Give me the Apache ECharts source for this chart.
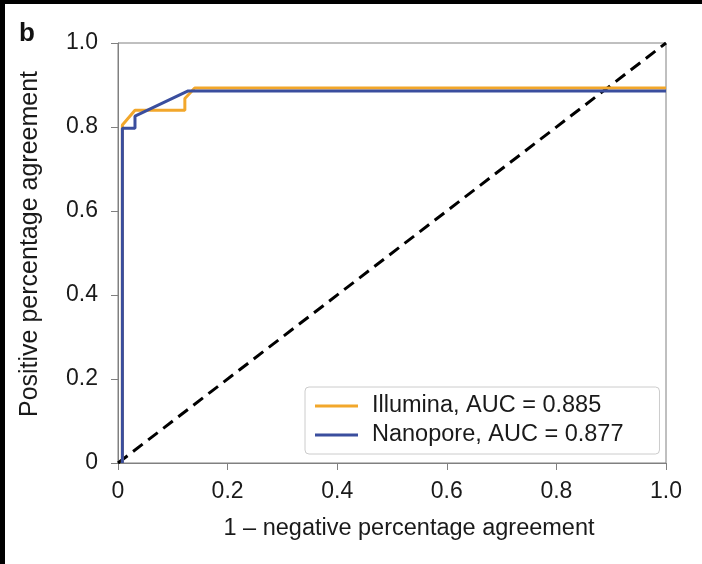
<!DOCTYPE html>
<html>
<head>
<meta charset="utf-8">
<script src="https://cdn.jsdelivr.net/npm/echarts@6/dist/echarts.min.js"></script>
<style>
html,body{margin:0;padding:0;background:#fff;}
#chart{width:702px;height:564px;}
</style>
</head>
<body>
<div id="chart"></div>
<script>
// ---- data ----
const illuminaX = [0.008, 0.008, 0.031, 0.122, 0.122, 0.14, 1.0];
const illuminaY = [0.0, 0.805, 0.84, 0.84, 0.868, 0.893, 0.893];
const nanoporeX = [0.008, 0.008, 0.031, 0.031, 0.128, 1.0];
const nanoporeY = [0.0, 0.797, 0.797, 0.826, 0.886, 0.886];
const diagX = [0, 1];
const diagY = [0, 1];
const seriesNames = ['Illumina, AUC = 0.885', 'Nanopore, AUC = 0.877'];
const xTitle = '1 \u2013 negative percentage agreement';
const yTitle = 'Positive percentage agreement';
const panelLabel = 'b';

const zip = (xs, ys) => xs.map((x, i) => [x, ys[i]]);
const FONT = '"Liberation Sans", Arial, Helvetica, sans-serif';
const fmt = v => v === 0 ? '0' : v.toFixed(1);
const axisGrey = '#808080';

const chart = echarts.init(document.getElementById('chart'), null, {renderer: 'canvas'});
chart.setOption({
  animation: false,
  backgroundColor: '#fff',
  textStyle: {fontFamily: FONT},
  grid: {left: 118, right: 36, top: 43, bottom: 101, show: true, borderColor: axisGrey, borderWidth: 1},
  xAxis: {
    type: 'value', min: 0, max: 1, interval: 0.2,
    name: xTitle, nameLocation: 'middle', nameGap: 54,
    nameTextStyle: {fontSize: 23.5, color: '#1a1a1a', fontFamily: FONT, padding: [0, 0, 0, 34]},
    axisLine: {show: true, lineStyle: {color: axisGrey, width: 1}},
    axisTick: {show: true, inside: false, length: 7, lineStyle: {color: axisGrey}},
    axisLabel: {formatter: fmt, fontSize: 23, color: '#1a1a1a', margin: 17, fontFamily: FONT},
    splitLine: {show: false}
  },
  yAxis: {
    type: 'value', min: 0, max: 1, interval: 0.2,
    name: yTitle, nameLocation: 'middle', nameGap: 75,
    nameTextStyle: {fontSize: 25, color: '#1a1a1a', fontFamily: FONT, padding: [0, 0, 0, 18]},
    axisLine: {show: true, lineStyle: {color: axisGrey, width: 1}},
    axisTick: {show: true, inside: false, length: 7, lineStyle: {color: axisGrey}},
    axisLabel: {formatter: fmt, fontSize: 23, color: '#1a1a1a', margin: 20, fontFamily: FONT},
    splitLine: {show: false}
  },
  legend: {
    orient: 'vertical', left: 305, top: 387,
    data: [{name: seriesNames[0], icon: 'rect'}, {name: seriesNames[1], icon: 'rect'}],
    itemWidth: 43, itemHeight: 3, itemGap: 5,
    padding: [7, 36, 7, 10],
    borderColor: '#cccccc', borderWidth: 1, borderRadius: 4,
    backgroundColor: 'rgba(255,255,255,0.9)',
    textStyle: {fontSize: 23.5, color: '#1a1a1a', fontFamily: FONT, padding: [0, 0, 0, 9], lineHeight: 23}
  },
  graphic: [
    {type: 'rect', left: 0, top: 0, shape: {width: 702, height: 4}, style: {fill: '#000'}, z: 100},
    {type: 'rect', left: 0, top: 0, shape: {width: 5, height: 564}, style: {fill: '#000'}, z: 100},
    {type: 'text', left: 19, top: 21, style: {text: panelLabel, font: 'bold 26px ' + FONT, fill: '#111'}}
  ],
  series: [
    {
      name: 'diag', type: 'line', data: zip(diagX, diagY), showSymbol: false, silent: true,
      lineStyle: {color: '#000', width: 3, type: [12, 7]}, z: 3
    },
    {
      name: seriesNames[0], type: 'line', data: zip(illuminaX, illuminaY), showSymbol: false,
      lineStyle: {color: '#F2A72B', width: 3}, itemStyle: {color: '#F2A72B'}, z: 4
    },
    {
      name: seriesNames[1], type: 'line', data: zip(nanoporeX, nanoporeY), showSymbol: false,
      lineStyle: {color: '#3A4E9E', width: 3}, itemStyle: {color: '#3A4E9E'}, z: 5
    }
  ]
});
</script>
</body>
</html>
